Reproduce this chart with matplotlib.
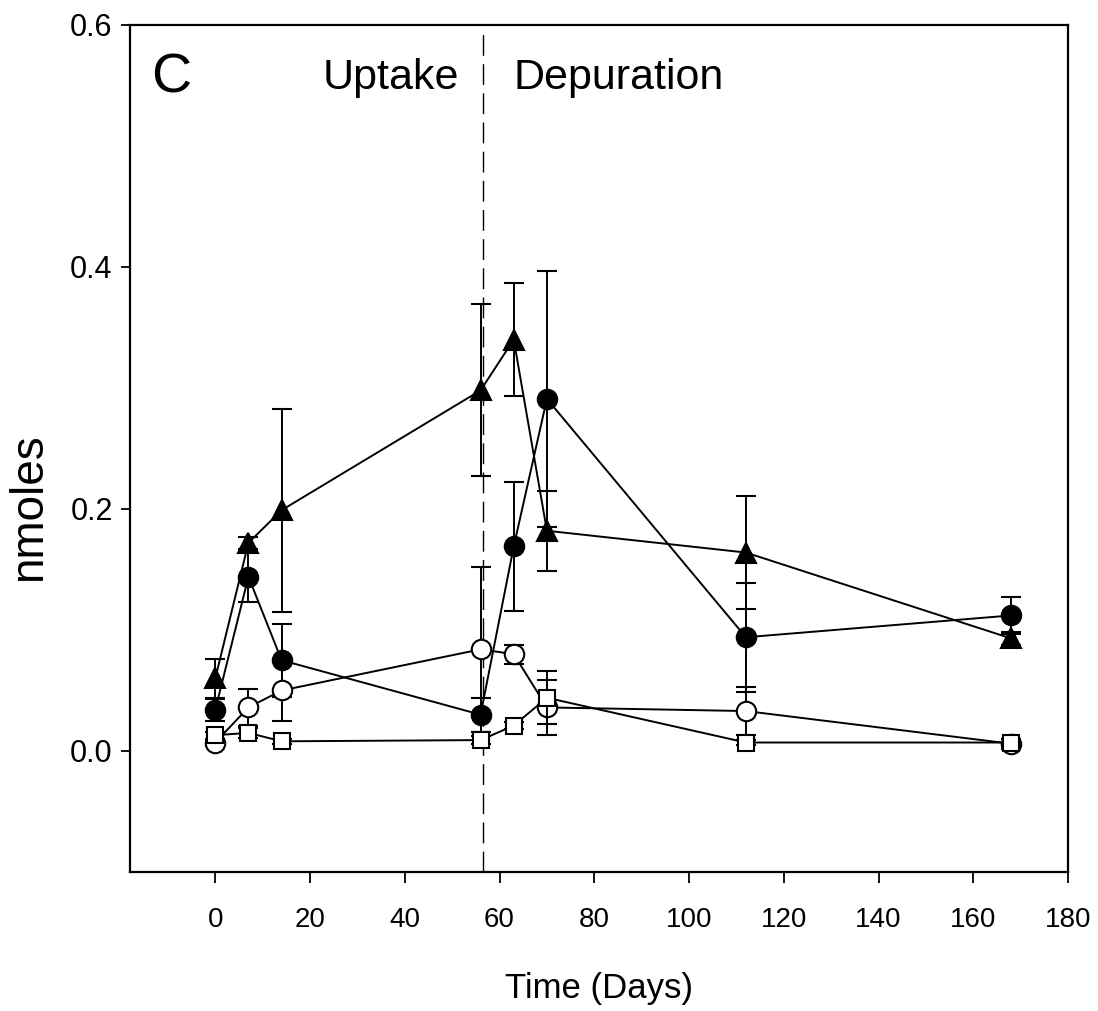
import matplotlib.pyplot as plt
from matplotlib.ticker import FormatStrFormatter

# sampling days
days = [0, 7, 14, 56, 63, 70, 112, 168]

# filled triangles
tri_mean = [0.060, 0.172, 0.199, 0.298, 0.340, 0.182, 0.164, 0.093]
tri_err = [0.016, 0.005, 0.084, 0.071, 0.047, 0.033, 0.047, 0.005]

# filled circles
dot_mean = [0.034, 0.144, 0.075, 0.030, 0.169, 0.291, 0.094, 0.112]
dot_err = [0.009, 0.021, 0.030, 0.014, 0.053, 0.106, 0.045, 0.015]

# open circles
ring_mean = [0.007, 0.036, 0.050, 0.084, 0.080, 0.036, 0.033, 0.006]
ring_err = [0.003, 0.015, 0.025, 0.068, 0.008, 0.023, 0.020, 0.004]

# open squares
sq_mean = [0.013, 0.015, 0.008, 0.009, 0.021, 0.044, 0.007, 0.007]
sq_err = [0.003, 0.004, 0.002, 0.003, 0.003, 0.022, 0.002, 0.003]

xticks = [0, 20, 40, 60, 80, 100, 120, 140, 160, 180]
yticks = [0.0, 0.2, 0.4, 0.6]

plt.rcParams["font.family"] = ["Liberation Sans", "DejaVu Sans"]

fig = plt.figure(figsize=(10.98, 10.11), dpi=100)
ax = fig.add_axes([0.1184, 0.1375, 0.8543, 0.8378])

# end of uptake phase
ax.axvline(56.5, ymin=0, ymax=0.99, color="black", lw=1.0,
           dashes=(15, 6), zorder=1)

common = dict(color="black", lw=1.4, elinewidth=1.4, capsize=7,
              capthick=1.5, markeredgewidth=1.5, markeredgecolor="black")
ax.errorbar(days, tri_mean, yerr=tri_err, fmt="-^", ms=14,
            markerfacecolor="black", zorder=3, **common)
ax.errorbar(days, dot_mean, yerr=dot_err, fmt="-o", ms=14,
            markerfacecolor="black", zorder=4, **common)
ax.errorbar(days, ring_mean, yerr=ring_err, fmt="-o", ms=14,
            markerfacecolor="white", zorder=5, **common)
ax.errorbar(days, sq_mean, yerr=sq_err, fmt="-s", ms=12,
            markerfacecolor="white", zorder=6, **common)

ax.set_xlim(-18, 180)
ax.set_ylim(-0.1, 0.6)
ax.set_xticks(xticks)
ax.set_yticks(yticks)
ax.yaxis.set_major_formatter(FormatStrFormatter("%.1f"))

for side in ["left", "bottom", "top", "right"]:
    ax.spines[side].set_linewidth(1.6)
ax.tick_params(axis="x", direction="out", length=8, width=1.3, pad=17,
               labelsize=20)
ax.tick_params(axis="y", direction="out", length=6.5, width=1.3, pad=6,
               labelsize=22)

ax.set_xlabel("Time (Days)", fontsize=25, labelpad=28)
ax.set_ylabel("nmoles", fontsize=33)
ax.yaxis.set_label_coords(-0.084, 0.431)

ax.text(-13.5, 0.556, "C", fontsize=40, va="center", ha="left")
ax.text(51.5, 0.556, "Uptake", fontsize=31, va="center", ha="right")
ax.text(63, 0.556, "Depuration", fontsize=31, va="center", ha="left")

fig.savefig("out.png", dpi=100)
